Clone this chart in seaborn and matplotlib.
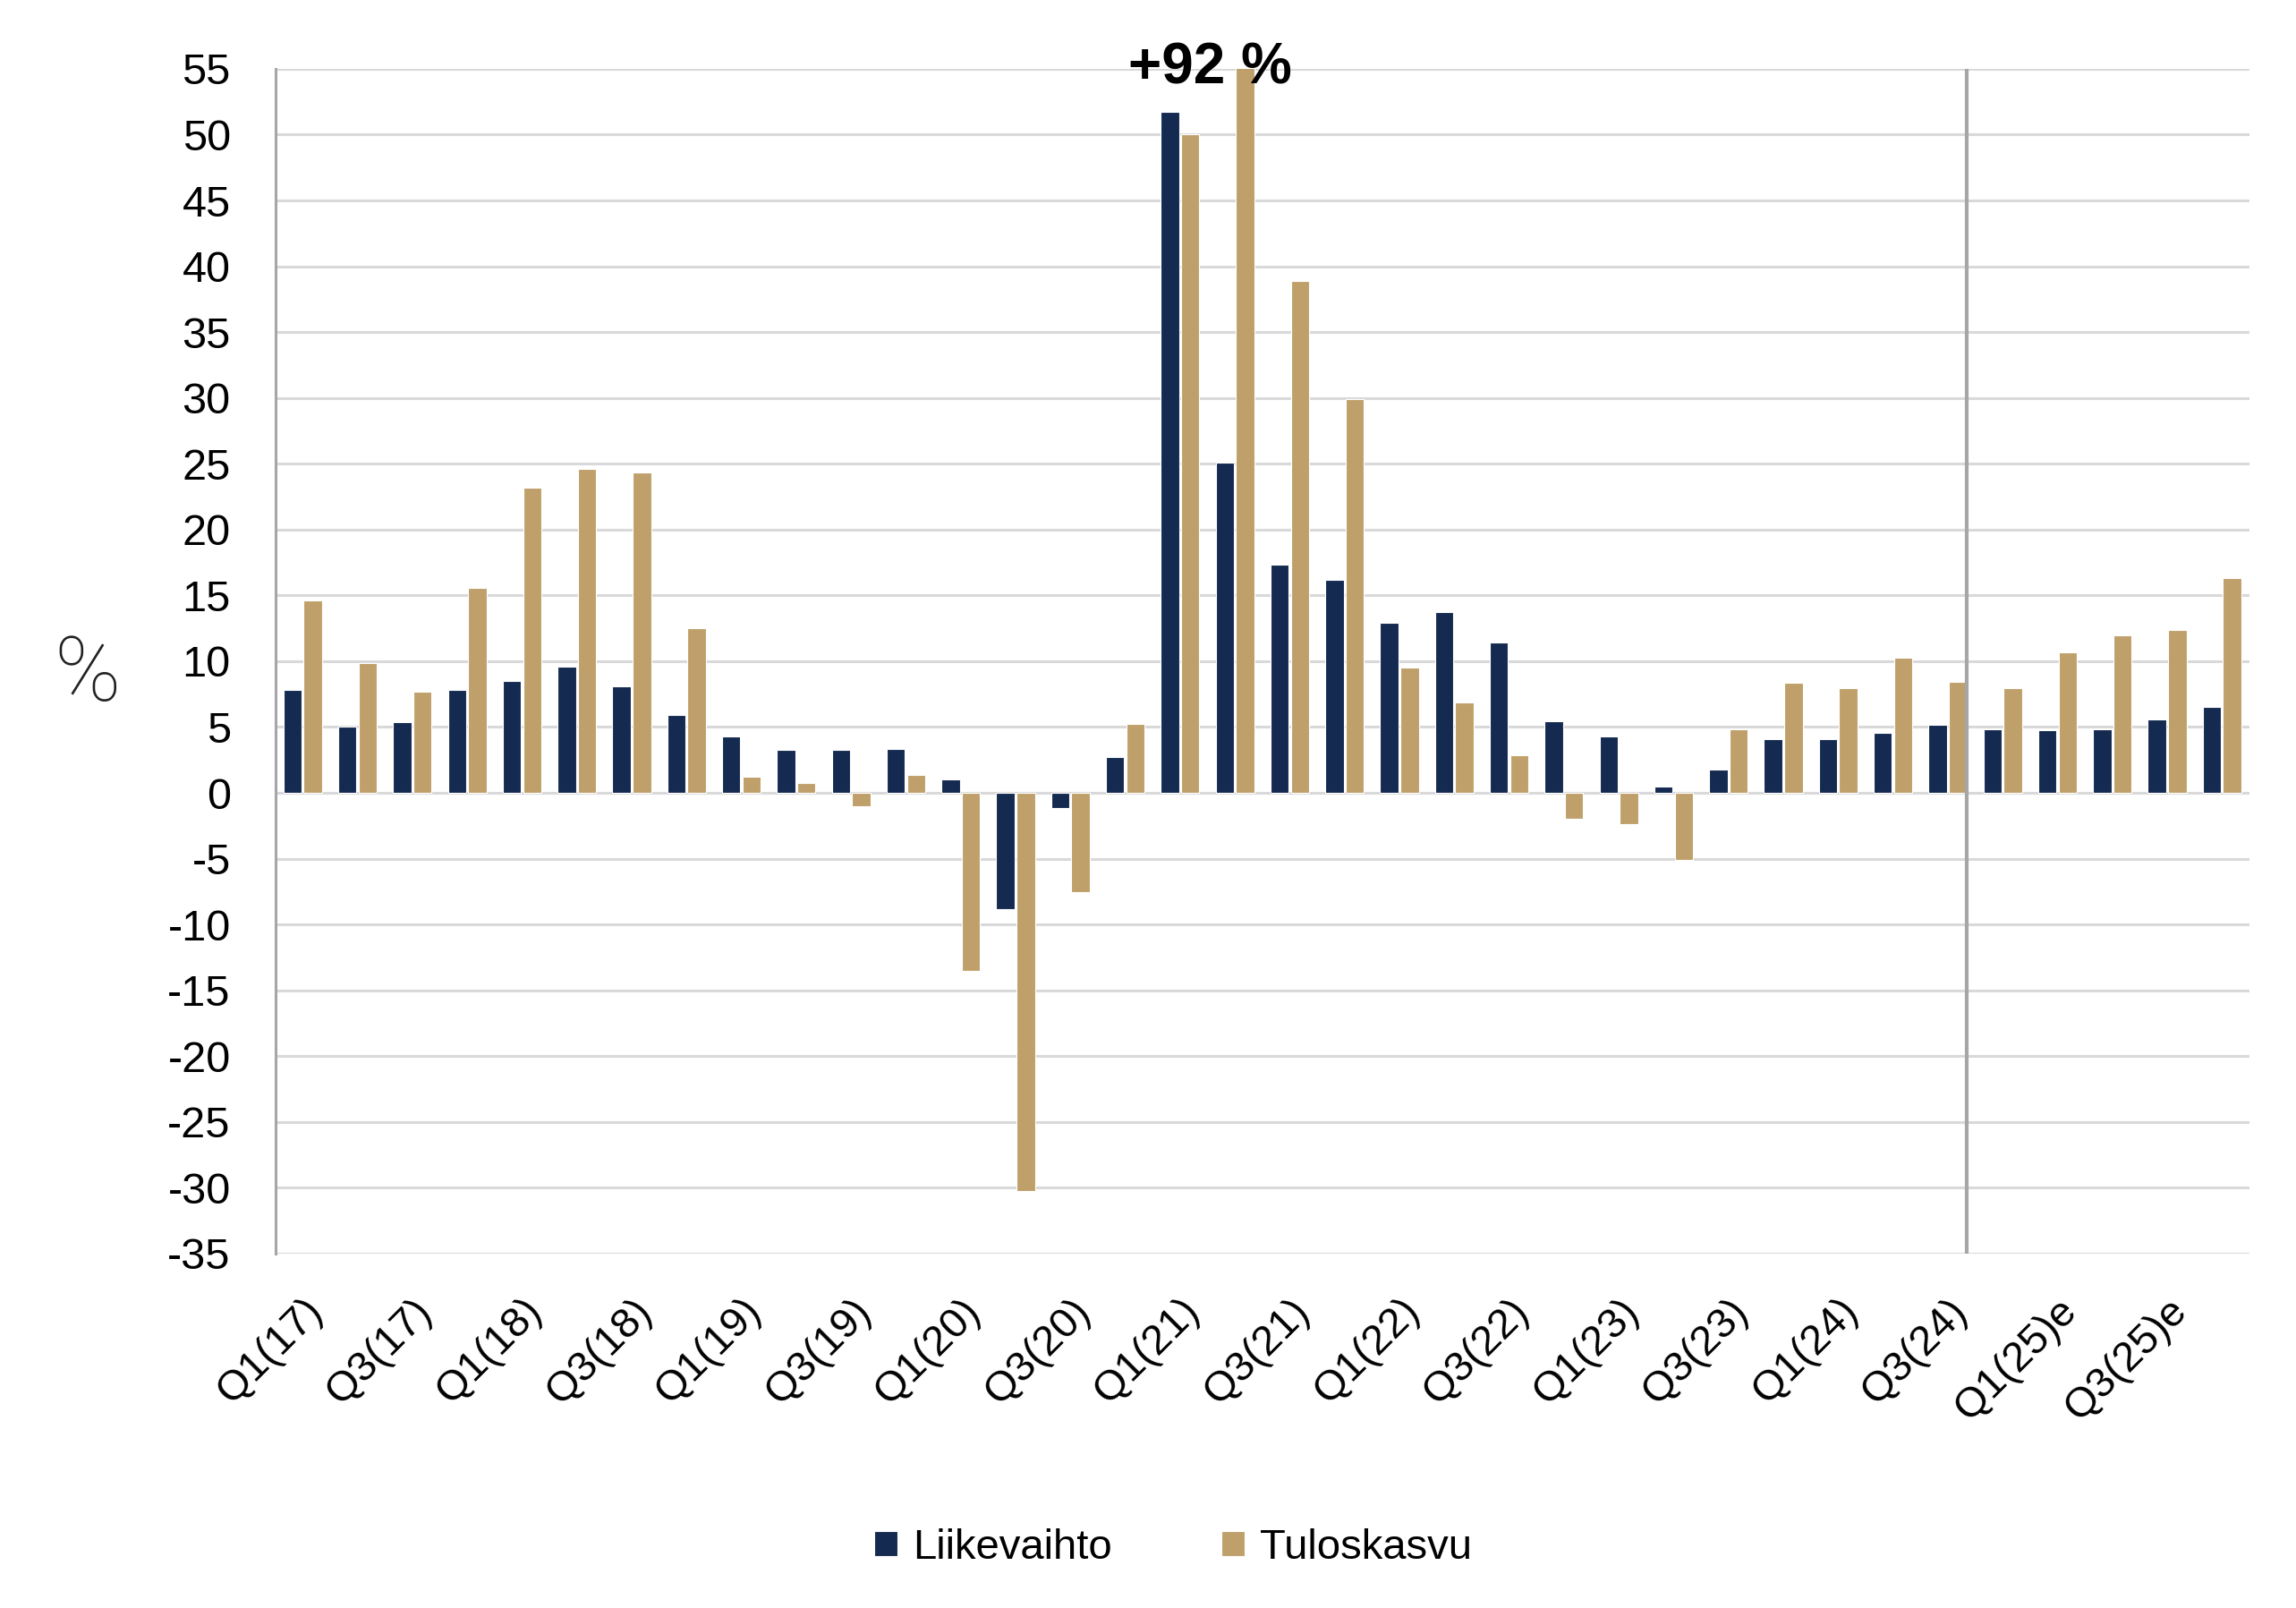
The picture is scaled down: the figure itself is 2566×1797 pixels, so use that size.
import matplotlib
matplotlib.use("Agg")
import matplotlib.pyplot as plt
import seaborn as sns
import pandas as pd

quarters = ["Q1(17)", "Q2(17)", "Q3(17)", "Q4(17)",
            "Q1(18)", "Q2(18)", "Q3(18)", "Q4(18)",
            "Q1(19)", "Q2(19)", "Q3(19)", "Q4(19)",
            "Q1(20)", "Q2(20)", "Q3(20)", "Q4(20)",
            "Q1(21)", "Q2(21)", "Q3(21)", "Q4(21)",
            "Q1(22)", "Q2(22)", "Q3(22)", "Q4(22)",
            "Q1(23)", "Q2(23)", "Q3(23)", "Q4(23)",
            "Q1(24)", "Q2(24)", "Q3(24)", "Q4(24)",
            "Q1(25)e", "Q2(25)e", "Q3(25)e", "Q4(25)e"]

liikevaihto = [7.8, 5.0, 5.4, 7.8,
               8.5, 9.6, 8.1, 5.9,
               4.3, 3.25, 3.25, 3.35,
               1.0, -8.8, -1.15, 2.7,
               51.75, 25.1, 17.35, 16.15,
               12.9, 13.7, 11.4, 5.45,
               4.3, 0.45, 1.75, 4.1,
               4.1, 4.55, 5.15, 4.8,
               4.75, 4.8, 5.55, 6.5]

tuloskasvu = [14.6, 9.85, 7.65, 15.6,
              23.2, 24.6, 24.35, 12.5,
              1.2, 0.75, -1.05, 1.35,
              -13.5, -30.25, -7.55, 5.25,
              50.0, 92.0, 38.9, 29.9,
              9.5, 6.85, 2.85, -2.0,
              -2.4, -5.1, 4.8, 8.35,
              7.95, 10.25, 8.4, 7.95,
              10.65, 11.95, 12.35, 16.3]

series_names = ["Liikevaihto", "Tuloskasvu"]
colors = ["#142A50", "#C0A06A"]
y_ticks = list(range(-35, 56, 5))
annotation_text = "+92 %"

df = pd.DataFrame({
    "quarter": quarters * 2,
    "series": [series_names[0]] * len(quarters) + [series_names[1]] * len(quarters),
    "value": liikevaihto + tuloskasvu,
})

sns.set_theme(style="white")
plt.rcParams["font.family"] = ["Liberation Sans", "DejaVu Sans"]
plt.rcParams["text.color"] = "black"

fig = plt.figure(figsize=(25.66, 17.97), dpi=100)
ax = fig.add_axes([0.1199, 0.2204, 0.9797 - 0.1199, 0.9572 - 0.2204])

for y in y_ticks:
    ax.axhline(y, color="#D9D9D9", lw=2.2, zorder=0)

sns.barplot(data=df, x="quarter", y="value", hue="series", palette=colors,
            width=0.74, gap=0.1, edgecolor="white", linewidth=0.8,
            saturation=1, ax=ax, legend=True, zorder=2)

ax.set_ylim(-35, 55)
ax.set_xlim(-0.5, len(quarters) - 0.5)
ax.set_yticks(y_ticks)
ax.set_yticklabels([str(v) for v in y_ticks], fontsize=35, color="black")
ax.tick_params(axis="y", length=0, pad=36)

xt = list(range(0, len(quarters), 2))
ax.set_xticks(xt)
ax.set_xticklabels([quarters[i] for i in xt], rotation=45, ha="right",
                   rotation_mode="anchor", fontsize=34, color="black")
ax.tick_params(axis="x", length=0, pad=30)
ax.set_xlabel("")
ax.set_ylabel("")

for s in ["top", "right", "bottom"]:
    ax.spines[s].set_visible(False)
ax.spines["left"].set_color("#A6A6A6")
ax.spines["left"].set_linewidth(2.2)

# divider between actuals and estimates
ax.axvline(30.35, color="#A6A6A6", lw=3, zorder=3)

ax.text(16.54, 55, annotation_text, ha="center", va="center", fontsize=46,
        fontweight="bold", color="black", clip_on=False, zorder=5)

fig.text(98 / 2566, 1 - 755 / 1797, "%", ha="center", va="center",
         fontsize=72, fontweight="light", color="#222222",
         family=["Roboto", "DejaVu Sans"])

handles, labels = ax.get_legend_handles_labels()
ax.get_legend().remove()
fig.legend(handles, labels, loc="center", bbox_to_anchor=(0.511, 0.0373),
           ncol=2, frameon=False, fontsize=34, handlelength=0.55,
           handleheight=0.55, handletextpad=0.35, columnspacing=2.6)

fig.savefig("out.png", dpi=100)
